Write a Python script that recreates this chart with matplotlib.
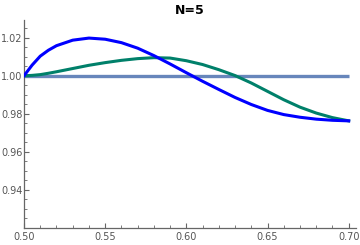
import matplotlib
matplotlib.use("Agg")
import matplotlib.pyplot as plt
from matplotlib.ticker import MultipleLocator, FormatStrFormatter

x = [0.50, 0.505, 0.51, 0.515, 0.52, 0.53, 0.54, 0.55, 0.56, 0.57, 0.58, 0.59, 0.60,
     0.61, 0.62, 0.63, 0.64, 0.65, 0.66, 0.67, 0.68, 0.69, 0.70]
blue_vals = [1.0000, 1.0056, 1.0103, 1.0134, 1.0158, 1.0187, 1.0198, 1.0192, 1.0174, 1.0145,
             1.0106, 1.0062, 1.0016, 0.9971, 0.9928, 0.9886, 0.9849, 0.9818,
             0.9796, 0.9782, 0.9772, 0.9766, 0.9763]
green_vals = [1.0000, 1.0002, 1.0006, 1.0013, 1.0021, 1.0038, 1.0055, 1.0069, 1.0081, 1.0090,
              1.0095, 1.0093, 1.0079, 1.0059, 1.0032, 1.0001, 0.9962, 0.9918,
              0.9874, 0.9835, 0.9804, 0.9780, 0.9763]
ref_level = 1.0
title = "N=5"

fig = plt.figure(figsize=(3.6, 2.45), dpi=100)
ax = fig.add_axes([24/360, 1-228/245, (356-24)/360, (228-20)/245])

ax.plot([x[0], x[-1]], [ref_level, ref_level], color="#5f80b8", lw=2.4, alpha=0.95, solid_capstyle="butt", zorder=1)
ax.plot(x, green_vals, color="#00806a", lw=2.2, zorder=2)
ax.plot(x, blue_vals, color="#0000ff", lw=2.2, zorder=3)

ax.set_xlim(0.5, 0.7045)
ax.set_ylim(0.92, 1.0293)
for s in ["top", "right"]:
    ax.spines[s].set_visible(False)
for s in ["left", "bottom"]:
    ax.spines[s].set_color("#666666")
    ax.spines[s].set_linewidth(0.9)

ax.xaxis.set_major_locator(MultipleLocator(0.05))
ax.xaxis.set_minor_locator(MultipleLocator(0.01))
ax.yaxis.set_major_locator(MultipleLocator(0.02))
ax.yaxis.set_minor_locator(MultipleLocator(0.005))
ax.xaxis.set_major_formatter(FormatStrFormatter("%.2f"))
ax.yaxis.set_major_formatter(FormatStrFormatter("%.2f"))
ax.set_yticks([0.94, 0.96, 0.98, 1.00, 1.02])
ax.tick_params(which="major", direction="in", length=3.5, width=0.8, color="#666666",
               labelsize=7, labelcolor="#555555", pad=3)
ax.tick_params(which="minor", direction="in", length=2, width=0.6, color="#666666")
ax.tick_params(axis="y", pad=1)

fig.text(190/360, 1-10/245, title, ha="center", va="center", fontsize=9, fontweight="bold")

fig.savefig("out.png", dpi=100)
